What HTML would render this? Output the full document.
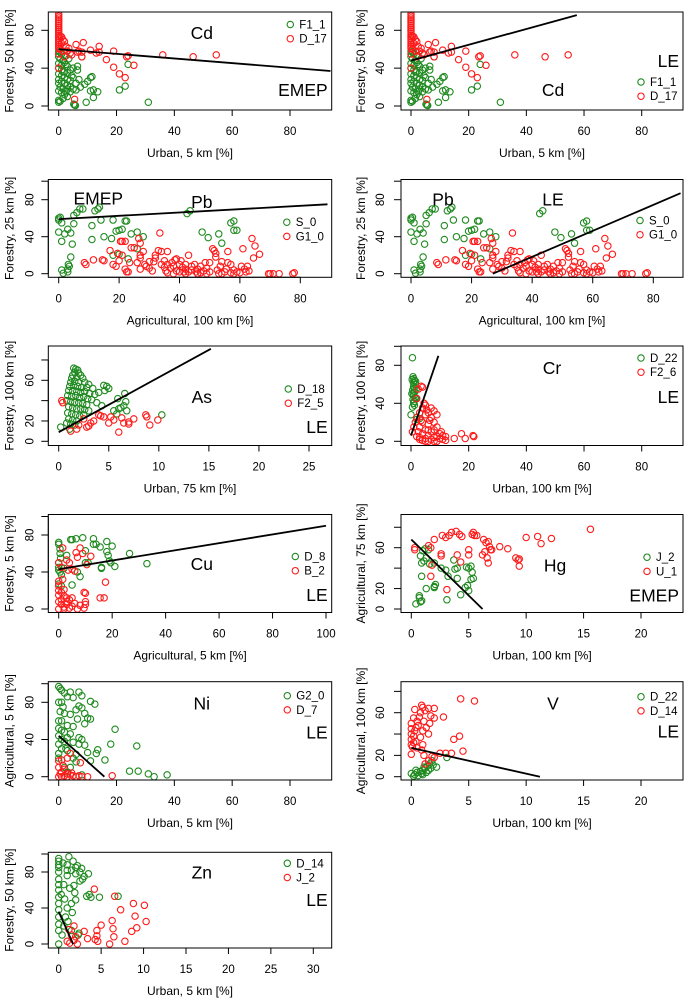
<!DOCTYPE html>
<html><head><meta charset="utf-8">
<style>
html,body{margin:0;padding:0;background:#fff;}
svg{display:block;font-family:"Liberation Sans",Arial,sans-serif;}
</style></head>
<body>
<svg id="fig" width="685" height="998" viewBox="0 0 685 998" xmlns="http://www.w3.org/2000/svg"></svg>
<script>
// ---------- DATA ----------
const cdGreen = [[0,58],[0.5,57],[1,55],[0,52],[0.5,50],[1.5,48],[2,46],[0,45],[1,43],[2.5,44],[3,42],[0,40],[1,38],[2,36],[3,35],[4,38],[5,40],[6.5,42],[6.5,38],[0,34],[1,32],[2,30],[3,28],[4,27],[5,30],[0,28],[1,26],[2,24],[3,22],[4,20],[5,18],[6,17],[0,24],[0.5,20],[1.5,18],[2.5,15],[0,16],[1,14],[2,12],[3,10],[0,6],[0.5,5],[0,4],[1.5,8],[4,15],[7,28],[7.5,20],[8,52],[9,23],[10,26],[11,30],[11.5,31],[9.5,4],[11,16],[12,17],[13.5,15],[12,9],[5.5,1],[5.8,0.5],[5.2,2],[21,17],[23,21],[24,44],[31,4],[3.5,50],[2.5,53],[1.5,36],[4.5,32],[6,24],[3,18]];
const cdRed = [[0,97],[0,95],[0,93],[0,91],[0,89],[0,87],[0,85],[0,83],[0,81],[0,79],[0,77],[0,75],[0,73],[0,71],[0,69],[0,67],[0,65],[0,63],[0,61],[0.5,74],[1,73],[1.5,70],[2,68],[1,66],[2.5,63],[3.5,61],[0.5,60],[1.5,58],[3,58],[4,56],[4.5,54],[2,52],[8.5,67],[6,65],[7,58],[6.5,57],[8,57],[11,59],[14,63],[14,57],[13,56],[19,58],[16.5,49],[24,53],[23.5,52],[36,54],[46.5,52],[54.5,54],[26,43],[19,41],[21,34],[23,30],[5.5,7],[8,52],[0,55],[0,40]];
const pbGreen = [[0,58],[0,60],[0.5,61],[1,55],[0,45],[1,35],[2,43],[3,48],[4,44],[4.5,32],[5,54],[5,63],[6,66],[7,70],[8,70],[12,68],[13,70],[13.5,72],[11,52],[11,37],[14,58],[15,40],[17.5,38],[18,58],[19,46],[20,47],[21,48],[22,57],[22.5,57],[24,43],[26,45],[28,40],[26,27],[18,20],[20,21],[23,16],[1,4],[1.5,0.5],[3,2],[3,5],[3.5,8],[3.2,10],[4,18],[42.5,65],[43.5,68],[47.5,45],[49.5,39],[53,43],[54,33],[57,55],[58,57],[58,47],[59,47]];
const pbRed = [[8.5,12],[9,10],[11.5,15],[14.5,15],[15,14],[17,25],[18,10],[19,8],[19.5,22],[20,14],[20.5,35],[21,35],[22,35],[21,20],[22,5],[22.5,2],[23,2],[23.5,12],[24,28],[25,28],[26,12],[26.5,38],[27,33],[27,20],[27,17],[27,5],[28,24],[28.5,10],[29,8],[30,6],[30,13],[31,3],[31.5,13],[32,17],[32,20],[33,25],[33.5,44],[34,24],[34,10],[35,7],[35,14],[35.5,3],[36,24],[36,10],[37,6],[37.5,12],[38,8],[38.5,15],[39,3],[39,16],[40,2],[40,10],[40.5,14],[41,7],[41.5,2],[42,5],[42,10],[43,20],[43,2],[44,8],[44,4],[45,10],[45.5,2],[46,5],[47,1],[47,8],[48,3],[48.5,12],[49,0],[49,6],[50,2],[50,12],[51,27],[51.5,25],[52,22],[52,18],[52.5,4],[53,0],[53.5,8],[54,13],[55,2],[55.5,5],[56,24],[56,12],[57,10],[57,1],[58,4],[59,2],[60,1],[60.5,8],[61,27],[61.5,5],[62,2],[62.5,8],[63,3],[64,38],[64.5,17],[65,30],[66.5,21],[69.5,0],[70,0],[71,0],[73,0],[77.5,0],[78,1],[36,1],[38,0],[42,0],[46,0],[54,0],[58,0]];
const asGreen = [[1.5,72],[1.7,71],[1.9,70],[1.6,68],[2.0,67],[1.4,65],[2.2,65],[1.3,62],[1.8,63],[2.4,62],[1.2,58],[1.6,59],[2.0,58],[2.6,58],[3.0,56],[1.1,54],[1.5,55],[1.9,54],[2.3,53],[2.8,53],[3.4,52],[4.5,55],[4.8,54],[5.0,52],[4.6,50],[1.0,50],[1.4,50],[1.8,49],[2.2,48],[2.6,49],[3.1,47],[3.6,46],[4.0,48],[0.9,45],[1.3,44],[1.7,45],[2.1,43],[2.5,44],[2.9,42],[3.3,41],[0.8,40],[1.2,39],[1.6,38],[2.0,38],[2.4,37],[2.8,36],[1.0,34],[1.4,33],[1.8,32],[2.2,32],[2.6,31],[3.0,30],[0.9,28],[1.3,27],[1.7,26],[2.1,25],[2.5,26],[1.0,22],[1.4,21],[1.8,20],[0.8,18],[1.2,17],[1.6,16],[0.2,14],[1.1,12],[6.6,47],[5.9,42],[6.7,39],[6.5,35],[10.3,26],[5.5,30],[6,32],[5.8,27],[6.2,33],[6.8,30],[4.3,35],[3.8,38]];
const asRed = [[0.3,40],[0.4,38],[1.2,10],[2,16],[8.7,26],[8.8,24],[9.1,16],[9.9,21],[6,9],[7.5,22],[5,18],[4,26],[3,15],[3.5,20],[2.5,22],[6.5,18],[7,19],[4.5,24],[5.5,21],[4.2,25],[5.2,24],[6.3,23],[7,17],[3.2,18],[2.8,14],[1.8,12]];
const crGreen = [[0.5,88],[0.7,68],[1,66],[1.2,64],[0.8,62],[1.5,60],[0.9,58],[1.1,56],[0.6,54],[1.3,52],[0.8,50],[1,48],[1.4,46],[0.7,44],[1.1,42],[0.9,40],[1.2,38],[0.5,36],[0,28],[3,24],[2,23],[1.6,63],[0.4,65],[1.8,55],[0.3,50],[1.7,45]];
const crRed = [[2,25],[3,30],[3,15],[4,35],[4,20],[4,8],[5,38],[5,28],[5,12],[5,3],[6,30],[6,18],[6,6],[7,35],[7,25],[7,10],[7,2],[8,32],[8,20],[8,12],[8,4],[9,28],[9,15],[9,5],[10,8],[10,3],[11,6],[11,2],[12,5],[12,1],[3,4],[4,1],[6,0],[8,0],[2.5,10],[3.5,22],[4.5,40],[5.5,33],[6.5,22],[6,12],[1.5,20],[2,5],[3,2],[5,0],[9,0],[10.5,10],[15,3],[17.5,8],[18.8,3],[21.5,6],[21.8,5],[3.5,58],[4,57],[2.5,55],[2,45],[1,15],[0.5,10]];
const cuGreen = [[0,72],[0,70],[0.5,65],[0.5,60],[0.7,55],[0,50],[0,45],[0,42],[0.5,40],[1,37],[0,27],[1,25],[4.5,75],[5,75],[6.5,76],[9,77],[13,76],[14,70],[13,70],[18,73],[20,68],[15.5,67],[18,62],[18.5,58],[19,52],[19.5,50],[21,46],[16,45],[16,44],[26.5,60],[33,49],[10,50],[10,63],[7,40],[8,35],[5,26],[3,58],[2,44],[11,50]];
const cuRed = [[1.5,66],[6.5,61],[7,56],[8,66],[9,60],[12,57],[10.5,48],[3,53],[4,50],[5,43],[6,41],[3.5,42],[17.5,29],[15.5,12],[17,12],[9.5,18],[10,17],[0,50],[1,45],[0,30],[1.5,32],[2,21],[3,12],[10,8],[10,5],[9.5,1],[7,0],[8,4],[5,3],[2,2],[1,5],[0,0],[0,8],[0,15],[1,10],[3,8],[4,10],[5,12],[2,14],[0,20],[0,25],[1,18],[3,5],[6,6],[4,1],[2,0]];
const hgGreen = [[1,57],[1.2,59],[1.5,58],[0.8,52],[0.9,45],[1.1,47],[1.3,50],[1.6,44],[2,45],[0.9,32],[1.3,20],[0.7,13],[0.7,11],[0.8,7],[0.9,8],[0.4,5],[2,22],[2.1,24],[2,21],[3.1,9],[3.7,48],[3.8,39],[4,40],[4,30],[3.2,32],[4.3,14],[4.7,21],[4.8,41],[5,40],[5.2,42],[5.3,36],[5.4,30],[5.2,29],[5,18],[4.9,23],[2.6,40],[3,38]];
const hgRed = [[0.3,60],[0.3,58],[2,68],[2.7,72],[3,70],[3.3,72],[3.5,75],[3.9,76],[4.2,73],[4.4,71],[5.3,73],[5.4,75],[5.5,72],[5.7,72],[6.3,68],[6.5,65],[6.7,66],[6.8,61],[6.4,56],[6.6,50],[6.7,45],[6.9,58],[7,58],[7.7,61],[8.4,59],[9.1,50],[9.3,48],[9.4,49],[9.4,42],[10,70],[11,71],[11.3,64],[12.2,69],[15.6,78],[5,58],[5,53],[4.3,46],[4,53],[2.6,54],[2.6,52],[1.7,60],[1.8,43],[1.7,32],[3.1,19],[1.5,62],[6.2,53]];
const vGreen = [[0,3],[0.3,2],[0.5,4],[0.8,5],[1,6],[1.2,8],[1.4,10],[1.6,12],[1.8,15],[2.2,9],[3.1,18],[0.6,1],[1.5,6],[1.7,8],[0.2,0.5],[1,2],[1.3,4],[0.4,6],[0.9,3],[1.9,11],[1.1,9]];
const vRed = [[0.3,63],[0.9,67],[1,65],[1.2,62],[1.5,64],[2,64],[2,55],[1.7,57],[2.8,56],[1.6,50],[1.3,46],[1,43],[1.5,40],[4.3,73],[5.5,71],[3.7,35],[4.2,38],[4.5,24],[3.5,22],[3,22],[2.5,22],[2,18],[1.8,19],[0,21],[1,30],[0.8,37],[0.6,48],[0.5,52],[0.2,55],[0.4,33],[0.1,28],[0.3,43],[1.1,20],[1.5,15],[1.2,12],[0.9,25],[0,30],[0,35],[0,40],[0,45],[0,50],[0.2,38],[0.4,46],[0.7,56],[0.8,60],[1.1,52],[0.2,32],[0.5,27]];
const niGreen = [[0,97],[0.5,95],[1,93],[2,90],[4,91],[7,91],[8,87],[3,86],[5,85],[0,80],[1,80],[11,81],[12.5,78],[7,76],[8,74],[6,72],[2,68],[4,67],[9,68],[10,63],[9,57],[6.5,62],[11,62],[1,60],[3,55],[5,54],[0,52],[2,48],[4,46],[7,42],[8,40],[0,44],[2,38],[5,37],[9,34],[1,30],[3,28],[6,24],[10,26],[13.5,29],[13,25],[16,18],[11,17],[19.5,51],[18,35],[27,33],[24.5,6],[27.5,6],[31,3],[33,0],[37.5,2],[0,20],[2,10],[4,10],[6,16],[8,2],[3,5],[0,35],[1,40],[0.5,70],[1.5,75],[2.5,30],[7,35],[5,20],[0,60],[0,25],[1,50],[3,42]];
const niRed = [[0,17],[1,18],[3,20],[4,25],[7.5,15],[0,10],[2,8],[1,5],[3,3],[4,2],[5,1],[6,0],[8,0],[10,0],[0,0],[2,1],[0.5,3],[1.5,12],[4.5,4],[18.5,1],[1,0],[3,0],[7,1]];
const znGreen = [[0,95],[0,92],[0,88],[0,80],[0,72],[0,60],[0,52],[0,45],[0,38],[0,30],[0,22],[0,15],[0,0],[0.5,90],[1,88],[1.5,82],[2,85],[2.5,80],[1.2,97],[1.7,92],[2.2,87],[2.7,84],[3,75],[3.5,78],[2.8,72],[2.5,70],[1,76],[0.6,66],[1.3,62],[1.9,57],[2,49],[1.5,45],[1,40],[1.6,35],[0.8,30],[1.1,25],[0.6,20],[0.4,10],[1.5,15],[2.3,10],[2.4,12],[3.3,53],[3.6,55],[3.8,52],[4.8,52],[7,53],[1.8,65],[0.3,55],[0.7,50],[0,85],[0,66],[1,82],[2,78]];
const znRed = [[4.2,61],[6.6,53],[8.8,45],[10.1,43],[7.3,38],[9,31],[10.3,25],[9.2,18],[8.6,14],[6.3,26],[6.4,17],[6.5,8],[5,21],[4.5,15],[4.5,9],[4.3,5],[4.6,3],[3.4,6],[3,14],[7.8,3],[6,0],[2.2,0],[1.8,20],[1.2,16],[1,3],[1.3,1],[1.8,4],[2,8],[1.5,10]];

// regression lines [x1,y1,x2,y2] in data units
const cdEmepLine = [0,60,94,37];
const cdLeLine = [0,48,57.5,96];
const pbEmepLine = [0,59,89,75];
const pbLeLine = [27,0,89,87];
const asLine = [0,9,15.2,91];
const crLine = [0,6,9.5,90];
const cuLine = [0,43,100,90];
const hgLine = [0,68,6.2,0];
const vLine = [0,27,11.2,0];
const niLine = [0,44,15.8,0];
const znLine = [0,36,1.7,0];

// tick value lists
const ticks0to80 = [0,20,40,60,80];
const ticks0to100 = [0,20,40,60,80,100];
const ticks0to25 = [0,5,10,15,20,25];
const ticks0to20 = [0,5,10,15,20];
const ticks0to30 = [0,5,10,15,20,25,30];
const yTicksPct = [0,40,80,100];
const yLabelsPct = [0,40,80];
const yTicksSmall = [0,20,40,60,80];
const yLabelsSmall = [0,20,60];

// ---------- LAYOUT ----------
const L = {x0:48.3,x1:331.7}, R = {x0:401,x1:683};
const rows = [[12,110],[179.5,277.3],[346,445.5],[514.5,612.5],[681.7,780],[852.3,948]];
const GREEN = "#1f8a1f", RED = "#ff1a1a";

const panels = [
 {id:"cd-emep",col:L,row:0,xm:[0,58.7,80,290],ym:[0,106,80,30.3],xt:ticks0to80,yt:yTicksPct,yl:yLabelsPct,
  g:cdGreen,r:cdRed,line:cdEmepLine,gn:"F1_1",rn:"D_17",xtitle:"Urban, 5 km [%]",ytitle:"Forestry, 50 km [%]",
  el:"Cd",elp:[153.5,21],mod:"EMEP",modp:[280,78],leg:[242,12.5]},
 {id:"cd-le",col:R,row:0,xm:[0,411,80,641.7],ym:[0,106,80,30.3],xt:ticks0to80,yt:yTicksPct,yl:yLabelsPct,
  g:cdGreen,r:cdRed,line:cdLeLine,gn:"F1_1",rn:"D_17",xtitle:"Urban, 5 km [%]",ytitle:"Forestry, 50 km [%]",
  el:"Cd",elp:[152,78],mod:"LE",modp:[277,49],leg:[240,70]},
 {id:"pb-emep",col:L,row:1,xm:[0,58.7,80,300.3],ym:[0,273.7,80,199.7],xt:ticks0to80,yt:yTicksPct,yl:yLabelsPct,
  g:pbGreen,r:pbRed,line:pbEmepLine,gn:"S_0",rn:"G1_0",xtitle:"Agricultural, 100 km [%]",ytitle:"Forestry, 25 km [%]",
  el:"Pb",elp:[153.5,22.7],mod:"EMEP",modp:[50,19,"middle"],leg:[238.5,42.7]},
 {id:"pb-le",col:R,row:1,xm:[0,411,80,653.3],ym:[0,273.7,80,199.7],xt:ticks0to80,yt:yTicksPct,yl:yLabelsPct,
  g:pbGreen,r:pbRed,line:pbLeLine,gn:"S_0",rn:"G1_0",xtitle:"Agricultural, 100 km [%]",ytitle:"Forestry, 25 km [%]",
  el:"Pb",elp:[42,20],mod:"LE",modp:[152,20,"middle"],leg:[239,41]},
 {id:"as-le",col:L,row:2,xm:[0,58.7,25,309],ym:[0,441.3,60,380.3],xt:ticks0to25,yt:yTicksSmall,yl:yLabelsSmall,
  g:asGreen,r:asRed,line:asLine,gn:"D_18",rn:"F2_5",xtitle:"Urban, 75 km [%]",ytitle:"Forestry, 100 km [%]",
  el:"As",elp:[153.5,51],mod:"LE",modp:[280,81],leg:[240,43]},
 {id:"cr-le",col:R,row:2,xm:[0,411,80,641.7],ym:[0,441.3,40,403.3],xt:ticks0to80,yt:yTicksPct,yl:yLabelsPct,
  g:crGreen,r:crRed,line:crLine,gn:"D_22",rn:"F2_6",xtitle:"Urban, 100 km [%]",ytitle:"Forestry, 100 km [%]",
  el:"Cr",elp:[151,22],mod:"LE",modp:[277,51],leg:[240,12]},
 {id:"cu-le",col:L,row:3,xm:[0,58.7,100,326],ym:[0,609,80,535],xt:ticks0to100,yt:yTicksPct,yl:yLabelsPct,
  g:cuGreen,r:cuRed,line:cuLine,gn:"D_8",rn:"B_2",xtitle:"Agricultural, 5 km [%]",ytitle:"Forestry, 5 km [%]",
  el:"Cu",elp:[153.5,49.5],mod:"LE",modp:[280,80.5],leg:[247,42]},
 {id:"hg-emep",col:R,row:3,xm:[0,411.3,20,641],ym:[0,609,60,547.7],xt:ticks0to20,yt:yTicksSmall,yl:yLabelsSmall,
  g:hgGreen,r:hgRed,line:hgLine,gn:"J_2",rn:"U_1",xtitle:"Urban, 100 km [%]",ytitle:"Agricultural, 75 km [%]",
  el:"Hg",elp:[154,51],mod:"EMEP",modp:[279,81],leg:[246,42.7]},
 {id:"ni-le",col:L,row:4,xm:[0,58.7,80,290],ym:[0,776.7,80,702.3],xt:ticks0to80,yt:yTicksPct,yl:yLabelsPct,
  g:niGreen,r:niRed,line:niLine,gn:"G2_0",rn:"D_7",xtitle:"Urban, 5 km [%]",ytitle:"Agricultural, 5 km [%]",
  el:"Ni",elp:[153.5,22],mod:"LE",modp:[280,51],leg:[239,14]},
 {id:"v-le",col:R,row:4,xm:[0,411.3,20,641],ym:[0,776.7,60,712.7],xt:ticks0to20,yt:yTicksSmall,yl:yLabelsSmall,
  g:vGreen,r:vRed,line:vLine,gn:"D_22",rn:"D_14",xtitle:"Urban, 100 km [%]",ytitle:"Agricultural, 100 km [%]",
  el:"V",elp:[152,22],mod:"LE",modp:[279,50],leg:[240,15]},
 {id:"zn-le",col:L,row:5,xm:[0,58.7,30,313.3],ym:[0,944,80,872],xt:ticks0to30,yt:yTicksPct,yl:yLabelsPct,
  g:znGreen,r:znRed,line:znLine,gn:"D_14",rn:"J_2",xtitle:"Urban, 5 km [%]",ytitle:"Forestry, 50 km [%]",
  el:"Zn",elp:[153.5,20.4],mod:"LE",modp:[280,47.7],leg:[239,11]}
];

// ---------- DRAW ----------
const NS = "http://www.w3.org/2000/svg";
const svg = document.getElementById("fig");
function mk(tag, attrs, parent){
  const e = document.createElementNS(NS, tag);
  for (const k in attrs) e.setAttribute(k, attrs[k]);
  (parent||svg).appendChild(e);
  return e;
}
function lin(m){ const s=(m[3]-m[1])/(m[2]-m[0]); return v => m[1]+(v-m[0])*s; }

panels.forEach(p => {
  const bx0=p.col.x0, bx1=p.col.x1, by0=rows[p.row][0], by1=rows[p.row][1];
  const sx=lin(p.xm), sy=lin(p.ym);
  const g = mk("g",{});
  
  
  const clipId="clip-"+p.id;
  const cp = mk("clipPath",{id:clipId},g);
  mk("rect",{x:bx0,y:by0,width:bx1-bx0,height:by1-by0},cp);

  // points
  const pts = mk("g",{"clip-path":"url(#"+clipId+")"},g);
  
  
  p.g.forEach(d => {
    const c = mk("circle",{cx:sx(d[0]),cy:sy(d[1]),r:3.2,fill:"none",stroke:GREEN,"stroke-width":1.1},pts);
    
    
  });
  p.r.forEach(d => {
    const c = mk("circle",{cx:sx(d[0]),cy:sy(d[1]),r:3.2,fill:"none",stroke:RED,"stroke-width":1.1},pts);
    
    
  });
  const ln = mk("line",{x1:sx(p.line[0]),y1:sy(p.line[1]),x2:sx(p.line[2]),y2:sy(p.line[3]),stroke:"#000","stroke-width":1.8,"clip-path":"url(#"+clipId+")"},g);
  
  

  // box
  const box = mk("rect",{x:bx0,y:by0,width:bx1-bx0,height:by1-by0,fill:"none",stroke:"#000","stroke-width":1},g);
  
  

  // x axis
  const xt = p.xt.filter(v => sx(v)>=bx0-0.5 && sx(v)<=bx1+0.5);
  const xa = mk("line",{x1:sx(xt[0]),y1:by1,x2:sx(xt[xt.length-1]),y2:by1,stroke:"#000","stroke-width":1},g);
  
  
  xt.forEach(v => {
    mk("line",{x1:sx(v),y1:by1,x2:sx(v),y2:by1+6,stroke:"#000","stroke-width":1},g);
    const t = mk("text",{x:sx(v),y:by1+25,"font-size":11.5,"text-anchor":"middle",fill:"#000"},g);
    t.textContent = v;
    
    
  });
  const xtt = mk("text",{x:(bx0+bx1)/2,y:by1+47,"font-size":12,"text-anchor":"middle",fill:"#000"},g);
  xtt.textContent = p.xtitle;
  
  

  // y axis
  const yt = p.yt.filter(v => sy(v)>=by0-0.5 && sy(v)<=by1+0.5);
  const ya = mk("line",{x1:bx0,y1:sy(yt[0]),x2:bx0,y2:sy(yt[yt.length-1]),stroke:"#000","stroke-width":1},g);
  
  
  const labX = p.col===L ? 29.3 : 380;
  yt.forEach(v => {
    mk("line",{x1:bx0-7,y1:sy(v),x2:bx0,y2:sy(v),stroke:"#000","stroke-width":1},g);
  });
  p.yl.forEach(v => {
    const t = mk("text",{x:0,y:0,"font-size":11.5,"text-anchor":"middle",fill:"#000",
      transform:"translate("+(labX+4)+","+sy(v)+") rotate(-90)"},g);
    t.textContent = v;
    
    
  });
  const tX = p.col===L ? 13.5 : 365;
  const ytt = mk("text",{x:0,y:0,"font-size":12,"text-anchor":"middle",fill:"#000",
    transform:"translate("+tX+","+((by0+by1)/2)+") rotate(-90)"},g);
  ytt.textContent = p.ytitle;
  
  

  // element label & model label
  const el = mk("text",{x:bx0+p.elp[0],y:by0+p.elp[1]+6,"font-size":17.5,"text-anchor":"middle",fill:"#000"},g);
  el.textContent = p.el;
  
  
  const anch = p.modp[2] || "end";
  const mx = anch==="end" ? bx1-4 : bx0+p.modp[0];
  const md = mk("text",{x:mx,y:by0+p.modp[1]+6,"font-size":17.5,"text-anchor":anch,fill:"#000"},g);
  md.textContent = p.mod;
  
  

  // legend
  const lg = mk("g",{},g);
  
  
  [[p.gn,GREEN,0],[p.rn,RED,14.2]].forEach(e => {
    const cy = by0+p.leg[1]+e[2];
    mk("circle",{cx:bx0+p.leg[0],cy:cy,r:3.2,fill:"none",stroke:e[1],"stroke-width":1.1},lg);
    const t = mk("text",{x:bx0+p.leg[0]+9,y:cy+4,"font-size":11.5,fill:"#000"},lg);
    t.textContent = e[0];
    
    
  });
});
</script>
</body></html>
